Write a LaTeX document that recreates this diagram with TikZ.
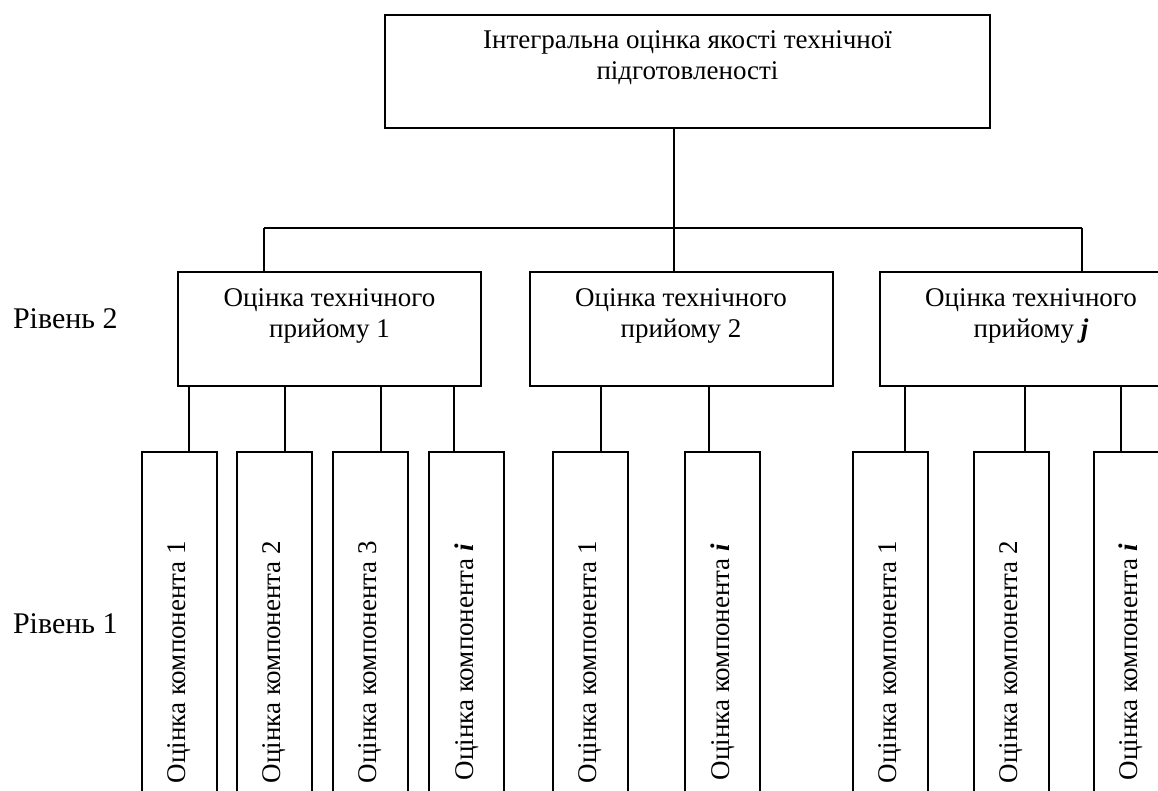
\documentclass[tikz,border=0pt]{standalone}
\usepackage{fontspec}
\setmainfont{Liberation Serif}

% text of a box, set at its top
\newcommand{\boxtext}[3]{\parbox[c][#1][t]{#2}{\centering\rule{0pt}{34pt}#3}}
\newcommand{\bi}[1]{\textbf{\textit{#1}}}

\tikzset{
  box/.style={draw, inner sep=0pt, minimum height=114pt, minimum width=303pt},
  comp/.style={draw, inner sep=0pt, rotate=90, minimum width=420pt, minimum height=75pt},
  level/.style={anchor=base west, inner sep=0pt, font=\fontsize{30}{32}\selectfont}
}

\begin{document}
\begin{tikzpicture}[x=1pt, y=-1pt, line width=2pt, font=\fontsize{27}{31}\selectfont]

      \useasboundingbox (0,0) rectangle (1158,791);
      \clip (0,0) rectangle (1158,791);

      % top
      \node[box, minimum width=605pt, minimum height=113pt] (top) at (687.5,71.5)
        {\boxtext{113pt}{580pt}{Інтегральна оцінка якості технічної\\підготовленості}};

      % level 2
      \node[box] (l2a) at (329.5,329) {\boxtext{114pt}{290pt}{Оцінка технічного\\прийому 1}};
      \node[box] (l2b) at (681,329) {\boxtext{114pt}{290pt}{Оцінка технічного\\прийому 2}};
      \node[box] (l2c) at (1031,329) {\boxtext{114pt}{290pt}{Оцінка технічного\\прийому \bi{j}}};

      % level 1
      \foreach \n/\x/\t in {l1a/179/1, l1b/274.5/2, l1c/370.5/3, l1d/466.5/\bi{i},
                            l1e/590.5/1, l1f/722.5/\bi{i},
                            l1g/890.5/1, l1h/1011/2, l1k/1131/\bi{i}}
        \node[comp] (\n) at (\x,662) {Оцінка компонента \t};

      \node[level] (lev2) at (12,328) {Рівень 2};
      \node[level] (lev1) at (12,633) {Рівень 1};

      % connectors
      \coordinate (bus1) at (264,228);
      \coordinate (bus2) at (674,228);
      \coordinate (bus3) at (1082,228);
      \draw (top.south -| bus2) -- (bus2);
      \draw (bus1) -- (bus3);
      \draw (bus1) -- (bus1 |- l2a.north);
      \draw (bus2) -- (bus2 |- l2b.north);
      \draw (bus3) -- (bus3 |- l2c.north);

      \foreach \p/\c/\x in {l2a/l1a/189, l2a/l1b/285, l2a/l1c/381, l2a/l1d/454,
                            l2b/l1e/601, l2b/l1f/709,
                            l2c/l1g/905, l2c/l1h/1025, l2c/l1k/1121} {
        \coordinate (tap) at (\x,0);
        \draw (\p.south -| tap) -- (\c.east -| tap);
      }
\end{tikzpicture}
\end{document}
